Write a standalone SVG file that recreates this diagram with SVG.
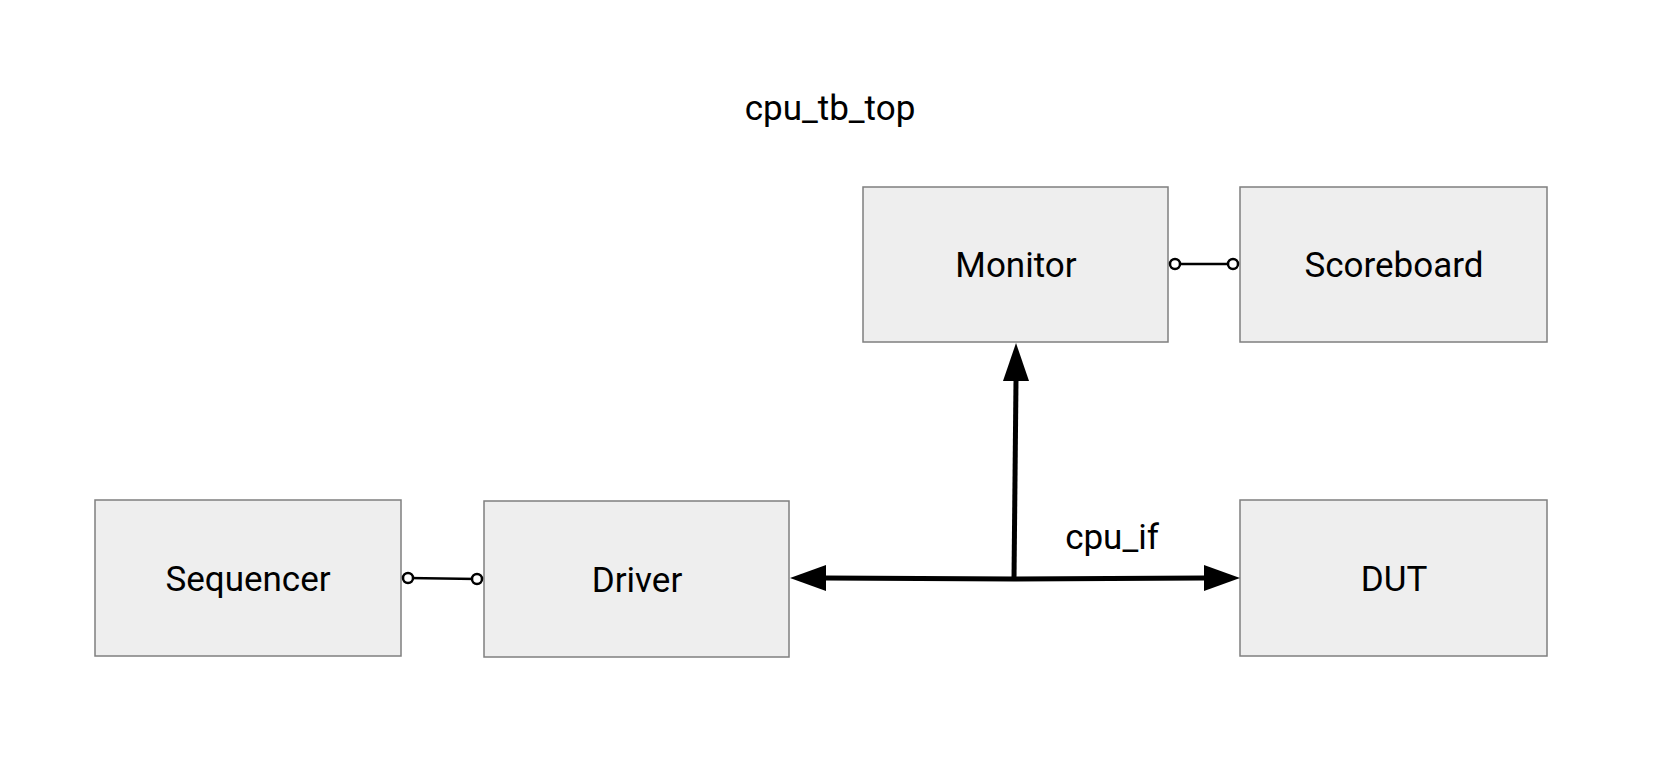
<svg xmlns="http://www.w3.org/2000/svg" width="1658" height="762" viewBox="0 0 1658 762">
<style>
.box{fill:#eeeeee;stroke:#7f7f7f;stroke-width:1.5}
.lbl{font-family:Roboto,"Liberation Sans",sans-serif;font-size:35px;fill:#000;text-anchor:middle}
.thin{stroke:#000;stroke-width:2.5;fill:none}
.thick{stroke:#000;stroke-width:5;fill:none}
.dot{fill:#fff;stroke:#000;stroke-width:2.5}
</style>
<defs>
<marker id="ah" markerWidth="8" markerHeight="6" refX="7" refY="3" orient="auto" markerUnits="strokeWidth"><path d="M0,0 L8,3 L0,6 Z" fill="#000"/></marker>
</defs>
<rect width="1658" height="762" fill="#fff"/>
<text class="lbl" x="830" y="120">cpu_tb_top</text>
<g id="sequencer"><rect class="box" x="95" y="500" width="306" height="156"/><text class="lbl" x="248" y="591">Sequencer</text></g>
<g id="driver"><rect class="box" x="484" y="501" width="305" height="156"/><text class="lbl" x="637" y="592">Driver</text></g>
<g id="monitor"><rect class="box" x="863" y="187" width="305" height="155"/><text class="lbl" x="1016" y="277">Monitor</text></g>
<g id="scoreboard"><rect class="box" x="1240" y="187" width="307" height="155"/><text class="lbl" x="1394" y="277">Scoreboard</text></g>
<g id="dut"><rect class="box" x="1240" y="500" width="307" height="156"/><text class="lbl" x="1394" y="591">DUT</text></g>
<g id="connectors">
<line class="thin" x1="408" y1="578" x2="477" y2="579"/>
<circle class="dot" cx="408" cy="578" r="5"/><circle class="dot" cx="477" cy="579" r="5"/>
<line class="thin" x1="1175" y1="264" x2="1233" y2="264"/>
<circle class="dot" cx="1175" cy="264" r="5"/><circle class="dot" cx="1233" cy="264" r="5"/>
<polyline class="thick" points="1014,579 1016,380"/>
<path d="M1016,343 L1029,381 L1003,381 Z" fill="#000"/>
<line class="thick" x1="1014" y1="579" x2="825" y2="578"/>
<path d="M790,578 L826,565 L826,591 Z" fill="#000"/>
<line class="thick" x1="1014" y1="579" x2="1204" y2="578"/>
<path d="M1240,578 L1204,565 L1204,591 Z" fill="#000"/>
<text class="lbl" x="1112" y="549">cpu_if</text>
</g>
</svg>
